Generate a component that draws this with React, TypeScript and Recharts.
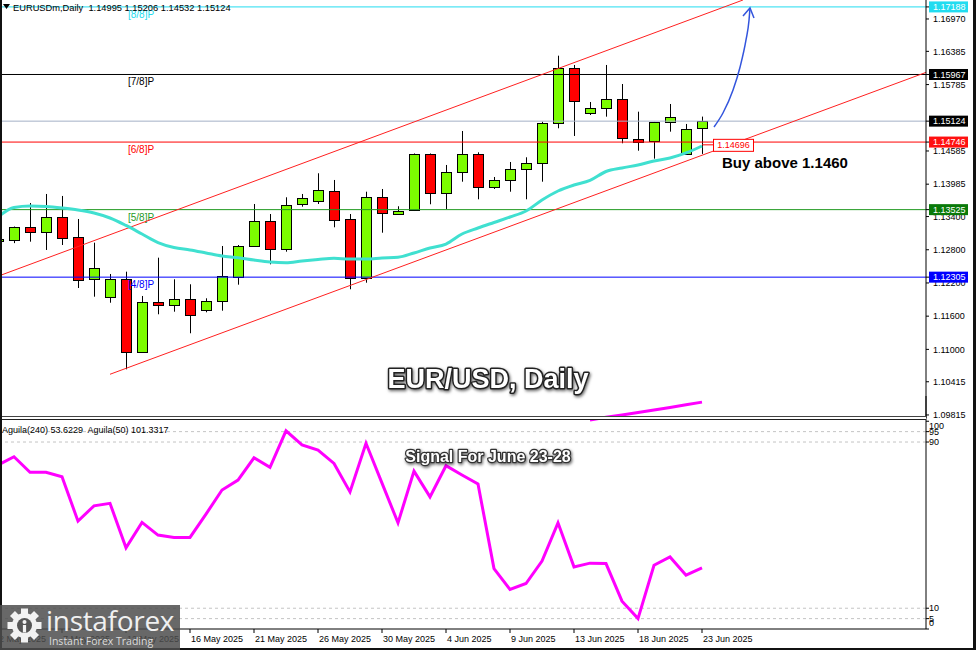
import React from 'react'
import { ComposedChart, Bar, Line, XAxis, YAxis, ReferenceLine, ReferenceDot } from 'recharts'

const FONT = '"Liberation Sans", Arial, sans-serif'

// daily bars, index 0 = 2 May 2025 ... 44 = 23 Jun 2025 (feed has sunday bars)
const opens = [
  1.1296, 1.12977, 1.13206, 1.13116, 1.13387, 1.13025, 1.12266, 1.11941, 1.12266, 1.10947,
  1.11851, 1.11797, 1.11905, 1.11706, 1.11862, 1.12302, 1.12868, 1.1332, 1.12808, 1.1364,
  1.13681, 1.13867, 1.1335, 1.12284, 1.13748, 1.13459, 1.13513, 1.14525, 1.1382, 1.142,
  1.14525, 1.13929, 1.14055, 1.14254, 1.14362, 1.15085, 1.16079, 1.15266, 1.15356, 1.15519,
  1.14802, 1.14753, 1.15103, 1.14525, 1.14995,
]
const highs = [
  1.1302, 1.1322, 1.13645, 1.13808, 1.13772, 1.13356, 1.12928, 1.12362, 1.12404, 1.11965,
  1.12657, 1.12266, 1.12176, 1.11923, 1.12868, 1.12886, 1.13627, 1.13446, 1.13748, 1.13808,
  1.14182, 1.14061, 1.13446, 1.13849, 1.13898, 1.13586, 1.1454, 1.1454, 1.14332, 1.14946,
  1.14561, 1.14115, 1.14386, 1.14471, 1.15114, 1.16307, 1.16139, 1.1547, 1.16139, 1.15795,
  1.15295, 1.1511, 1.15434, 1.15073, 1.15206,
]
const lows = [
  1.1293, 1.1292, 1.12946, 1.12796, 1.12886, 1.12109, 1.11952, 1.11843, 1.1064, 1.1094,
  1.11634, 1.11681, 1.11291, 1.1167, 1.11699, 1.12169, 1.1286, 1.12537, 1.12765, 1.13578,
  1.13627, 1.13206, 1.12086, 1.12205, 1.13108, 1.13428, 1.135, 1.13622, 1.13537, 1.1403,
  1.13712, 1.13898, 1.13849, 1.13712, 1.1403, 1.14995, 1.14856, 1.15235, 1.15205, 1.14724,
  1.1459, 1.14446, 1.14934, 1.1452, 1.14532,
]
const closes = [
  1.1299, 1.13206, 1.13116, 1.13387, 1.13007, 1.12241, 1.12465, 1.12266, 1.10947, 1.11851,
  1.11797, 1.11905, 1.11616, 1.11869, 1.12321, 1.12868, 1.1332, 1.12808, 1.13609, 1.13741,
  1.1388, 1.1335, 1.12284, 1.13748, 1.13459, 1.13506, 1.14525, 1.1382, 1.142, 1.14525,
  1.13929, 1.14055, 1.14254, 1.14362, 1.15085, 1.16079, 1.15476, 1.15356, 1.15519, 1.14814,
  1.14742, 1.15103, 1.15194, 1.14977, 1.15124,
]
const movingAvg = [
  1.13392, 1.13564, 1.13591, 1.13582, 1.13555, 1.13519, 1.13464, 1.13374, 1.13239, 1.13085,
  1.12931, 1.12841, 1.12796, 1.12742, 1.12687, 1.12657, 1.12615, 1.12579, 1.12566, 1.12597,
  1.12624, 1.12646, 1.12633, 1.12633, 1.12651, 1.12664, 1.12742, 1.12832, 1.12904, 1.13085,
  1.13193, 1.13293, 1.13392, 1.135, 1.13699, 1.13862, 1.1397, 1.14052, 1.14214, 1.14278,
  1.14332, 1.14404, 1.14458, 1.14549, 1.14675,
]
const aguila240 = [
  78.9, 82.9, 75.4, 75.4, 73.3, 51.9, 59.3, 60.5, 39.1, 51.3,
  45.2, 44.1, 44.1, 55.3, 66.9, 71.7, 82.4, 77.8, 95.4, 88.6,
  86.1, 79.7, 66.0, 89.4, 70.2, 51.1, 76.0, 63.6, 78.6, 74.1,
  69.8, 29.1, 19.0, 21.9, 32.7, 51.1, 29.9, 31.7, 31.5, 13.4,
  5.0, 30.7, 34.7, 25.9, 29.4,
]
const aguila50: (number | null)[] = [
  null, null, null, null, null, null, null, null, null, null,
  null, null, null, null, null, null, null, null, null, null,
  null, null, null, null, null, null, null, null, null, null,
  null, null, null, null, null, null, null, 100.6, 101.9, 103.0,
  104.2, 105.4, 106.6, 107.9, 109.2,
]

const dateTicks = [0, 4, 8, 12, 16, 20, 24, 28, 32, 36, 40, 44]
const dateLabels = [
  '2 May 2025', '7 May 2025', '12 May 2025', '16 May 2025', '21 May 2025', '26 May 2025',
  '30 May 2025', '4 Jun 2025', '9 Jun 2025', '13 Jun 2025', '18 Jun 2025', '23 Jun 2025',
]

const priceTicks = [1.1697, 1.16385, 1.15785, 1.14585, 1.13985, 1.134, 1.128, 1.122, 1.116, 1.11, 1.10415, 1.09815]
const levelNames = ['[8/8]P', '[7/8]P', '[6/8]P', '[5/8]P', '[4/8]P']
const levelPrices = [1.17188, 1.15967, 1.14746, 1.13525, 1.12305]
const levelColors = ['#22dcf0', '#000000', '#ff0000', '#1f9a1f', '#0000ff']
const levelBoxes = ['#22dcf0', '#000000', '#ff1010', '#0a7a0a', '#0000ff']
const lastPrice = 1.15124
const maLabel = 1.14696
const indicatorTicks = [0, 5, 10, 90, 95, 100]
const indicatorLevels = [95, 90, 10, 5]

const upperChannel = [{ x: 0.125, y: 1.12335 }, { x: 46.56, y: 1.17313 }]
const lowerChannel = [{ x: 7.0, y: 1.1055 }, { x: 58, y: 1.16005 }]
const arrowX = [44.75, 45.31, 45.94, 46.38, 46.75, 46.94, 47.0]
const arrowP = [1.15018, 1.15271, 1.15687, 1.16103, 1.16591, 1.16952, 1.17169]

const rows = opens.map((o, i) => ({
  i,
  open: o,
  high: highs[i],
  low: lows[i],
  close: closes[i],
  range: [lows[i], highs[i]],
  ma: movingAvg[i],
  ag240: aguila240[i],
  ag50: aguila50[i],
}))
const arrowRows = arrowX.map((x, k) => ({ i: x, p: arrowP[k] }))

const Candle = (props: any) => {
  const { x, y, width, height, payload } = props
  if (x == null || !payload) return null
  const top = Math.min(y, y + height)
  const span = Math.abs(height)
  const py = (p: number) => top + ((payload.high - p) / (payload.high - payload.low)) * span
  const c = Math.round(x + width / 2) + 0.5
  const yo = py(payload.open)
  const yc = py(payload.close)
  const bull = payload.close >= payload.open
  const bt = Math.round(Math.min(yo, yc)) + 0.5
  const bh = Math.max(Math.round(Math.abs(yc - yo)), 1)
  return (
    <g>
      <line x1={c} x2={c} y1={top} y2={top + span} stroke="#000" strokeWidth={1} />
      <rect x={c - 5} y={bt} width={10} height={bh} fill={bull ? '#7cfc00' : '#ff0000'} stroke="#000" strokeWidth={1} />
    </g>
  )
}

const PriceTick = (props: any) => {
  const { x, y, payload } = props
  const v = payload.value
  const li = levelPrices.findIndex((p) => Math.abs(p - v) < 1e-9)
  const isLast = Math.abs(v - lastPrice) < 1e-9
  if (li >= 0 || isLast) {
    const bg = isLast ? '#000' : levelBoxes[li]
    return (
      <g>
        <rect x={x - 4} y={y - 5.5} width={39} height={11} fill={bg} />
        <text x={x} y={y} dy="0.35em" fill="#fff" fontSize={9} fontFamily={FONT} textAnchor="start">{v.toFixed(5)}</text>
      </g>
    )
  }
  return (
    <text x={x} y={y} dy="0.35em" fill="#000" fontSize={9} fontFamily={FONT} textAnchor="start">{v.toFixed(5)}</text>
  )
}

const IndTick = (props: any) => {
  const { x, y, payload } = props
  const v = payload.value
  const shift = v === 100 ? 5 : v === 0 ? -6 : 0
  return (
    <text x={x} y={y + shift} dy="0.35em" fill="#000" fontSize={9} fontFamily={FONT} textAnchor="start">{v}</text>
  )
}

const DateTick = (props: any) => {
  const { x, y, payload } = props
  const k = dateTicks.indexOf(payload.value)
  return (
    <text x={x + 1} y={y + 7} fill="#000" fontSize={9} fontFamily={FONT} textAnchor="start">{dateLabels[k]}</text>
  )
}

const LevelLabel = (props: any) => {
  const vb = props.viewBox || {}
  return (
    <text x={(vb.x || 0) + 128} y={(vb.y || 0) + 11} fill={props.color} fontSize={10} fontFamily={FONT}>{props.text}</text>
  )
}

const MaTag = (props: any) => {
  const { cx, cy } = props
  if (cx == null) return null
  return (
    <g>
      <line x1={cx} x2={cx + 11} y1={cy} y2={cy} stroke="#ff0000" />
      <rect x={cx + 11.5} y={cy - 5.5} width={40} height={12} fill="#fff" stroke="#ff0000" />
      <text x={cx + 31.5} y={cy + 0.5} dy="0.35em" fill="#ff0000" fontSize={9} fontFamily={FONT} textAnchor="middle">{maLabel.toFixed(5)}</text>
    </g>
  )
}

const ArrowHead = (props: any) => {
  const { cx, cy } = props
  if (cx == null) return null
  return <polyline points={`${cx - 7},${cy + 8} ${cx},${cy} ${cx + 4},${cy + 10}`} fill="none" stroke="#3355dd" strokeWidth={1.5} />
}

export default function App() {
  return (
    <div style={{ position: 'absolute', left: 0, top: 0, width: 976, height: 650, background: '#fff', overflow: 'hidden', fontFamily: FONT }}>
      <div style={{ position: 'absolute', left: 0, top: 0 }}>
        <ComposedChart width={976} height={424} data={rows} margin={{ top: 0, right: 0, bottom: 6, left: 0 }}>
          <XAxis dataKey="i" type="number" domain={[0.125, 58]} allowDataOverflow hide />
          <YAxis
            orientation="right"
            width={50}
            domain={[1.0976, 1.17313]}
            allowDataOverflow
            ticks={[...priceTicks, ...levelPrices, lastPrice]}
            interval={0}
            tick={<PriceTick />}
            tickSize={3}
            tickMargin={4}
            axisLine={{ stroke: '#000' }}
            tickLine={{ stroke: '#000' }}
          />
          {levelPrices.map((p, k) => (
            <ReferenceLine
              key={levelNames[k]}
              y={p}
              stroke={levelColors[k]}
              strokeWidth={1}
              label={<LevelLabel text={levelNames[k]} color={levelColors[k]} />}
            />
          ))}
          <ReferenceLine y={lastPrice} stroke="#a3b0c6" strokeWidth={1} />
          <ReferenceLine segment={upperChannel} stroke="#ff2020" strokeWidth={1} ifOverflow="hidden" />
          <ReferenceLine segment={lowerChannel} stroke="#ff2020" strokeWidth={1} ifOverflow="hidden" />
          <Bar dataKey="range" barSize={10} shape={<Candle />} isAnimationActive={false} />
          <Line dataKey="ma" type="monotone" stroke="#40e0d0" strokeWidth={3} dot={false} isAnimationActive={false} />
          <Line data={arrowRows} dataKey="p" type="monotone" stroke="#3355dd" strokeWidth={1.5} dot={false} isAnimationActive={false} />
          <ReferenceDot x={arrowX[arrowX.length - 1]} y={arrowP[arrowP.length - 1]} r={0} shape={<ArrowHead />} ifOverflow="visible" />
          <ReferenceDot x={44} y={maLabel} r={0} shape={<MaTag />} ifOverflow="visible" />
        </ComposedChart>
      </div>

      <div style={{ position: 'absolute', left: 0, top: 396 }}>
        <ComposedChart width={976} height={254} data={rows} margin={{ top: 0, right: 0, bottom: 0, left: 0 }}>
          <XAxis
            dataKey="i"
            type="number"
            domain={[0.125, 58]}
            allowDataOverflow
            ticks={dateTicks}
            interval={0}
            tick={<DateTick />}
            height={21}
            tickSize={4}
            tickMargin={2}
            axisLine={{ stroke: '#000' }}
            tickLine={{ stroke: '#000' }}
          />
          <YAxis
            orientation="right"
            width={50}
            domain={[0, 112.15]}
            allowDataOverflow
            ticks={indicatorTicks}
            interval={0}
            tick={<IndTick />}
            tickSize={3}
            tickMargin={0}
            axisLine={{ stroke: '#000' }}
            tickLine={{ stroke: '#000' }}
          />
          {indicatorLevels.map((v) => (
            <ReferenceLine key={v} y={v} stroke="#c4c4c4" strokeDasharray="3 3" />
          ))}
          <Line dataKey="ag240" type="linear" stroke="#ff00ff" strokeWidth={3} dot={false} isAnimationActive={false} />
          <Line dataKey="ag50" type="linear" stroke="#ff00ff" strokeWidth={3} dot={false} isAnimationActive={false} />
        </ComposedChart>
      </div>

      {/* window frame */}
      <div style={{ position: 'absolute', left: 0, top: 416, width: 926, height: 1, background: '#444' }} />
      <div style={{ position: 'absolute', left: 0, top: 417, width: 926, height: 2, background: '#fff' }} />
      <div style={{ position: 'absolute', left: 0, top: 419, width: 926, height: 1, background: '#222' }} />
      <div style={{ position: 'absolute', left: 0, top: 0, width: 2, height: 648, background: '#111' }} />
      <div style={{ position: 'absolute', left: 973, top: 0, width: 3, height: 650, background: '#111' }} />
      <div style={{ position: 'absolute', left: 0, top: 648, width: 976, height: 2, background: '#111' }} />

      <svg width={976} height={650} style={{ position: 'absolute', left: 0, top: 0, pointerEvents: 'none' }}>
        <defs>
          <filter id="shadow" x="-10%" y="-30%" width="120%" height="160%">
            <feDropShadow dx="1" dy="1.5" stdDeviation="1.5" floodColor="#000" floodOpacity="0.6" />
          </filter>
        </defs>
        <polygon points="3,4 10,4 6.5,9" fill="#000" />
        <text x={13} y={10.5} fontSize={9.3} fontFamily={FONT} fill="#000" style={{ whiteSpace: 'pre' }}>
          {'EURUSDm,Daily  1.14995 1.15206 1.14532 1.15124'}
        </text>
        <text x={722} y={168} fontSize={15} fontWeight="bold" fontFamily={FONT} fill="#000">Buy above 1.1460</text>
        <text x={488} y={388} fontSize={27} fontWeight="bold" fontFamily={FONT} fill="#fff" stroke="#222" strokeWidth={3} paintOrder="stroke" strokeLinejoin="round" textAnchor="middle" filter="url(#shadow)">
          EUR/USD, Daily
        </text>
        <text x={488} y={462} fontSize={16} fontWeight="bold" fontFamily={FONT} fill="#fff" stroke="#333" strokeWidth={2.5} paintOrder="stroke" strokeLinejoin="round" textAnchor="middle" filter="url(#shadow)">
          Signal For June 23-28
        </text>
        <text x={2} y={433} fontSize={9} fontFamily={FONT} fill="#000" style={{ whiteSpace: 'pre' }}>
          {'Aguila(240) 53.6229  Aguila(50) 101.3317'}
        </text>
      </svg>

      {/* instaforex watermark */}
      <div style={{ position: 'absolute', left: 0, top: 605, width: 180, height: 45, background: 'rgba(78,78,78,0.85)' }}>
        <svg width={44} height={45} style={{ position: 'absolute', left: 3, top: 0 }}>
          <g transform="translate(21.5,20.5)">
            {[0, 45, 90, 135, 180, 225, 270, 315].map((a) => (
              <rect key={a} x={-3.5} y={-17} width={7} height={8} fill="#f2f2f2" transform={`rotate(${a})`} />
            ))}
            <circle r={12.5} fill="#f2f2f2" />
            <circle r={7.5} fill="#555" />
            <circle cx={0} cy={-3.5} r={2} fill="#f2f2f2" />
            <rect x={-1.6} y={-0.5} width={3.2} height={7.5} fill="#f2f2f2" />
          </g>
        </svg>
        <div style={{ position: 'absolute', left: 46, top: 0, fontFamily: '"Open Sans", sans-serif', fontSize: 28, lineHeight: '30px', color: '#f0f0f0', letterSpacing: -0.3 }}>instaforex</div>
        <div style={{ position: 'absolute', left: 49, top: 30, fontFamily: '"Open Sans", sans-serif', fontSize: 10.5, lineHeight: '13px', color: '#dcdcdc' }}>Instant Forex Trading</div>
      </div>
    </div>
  )
}
